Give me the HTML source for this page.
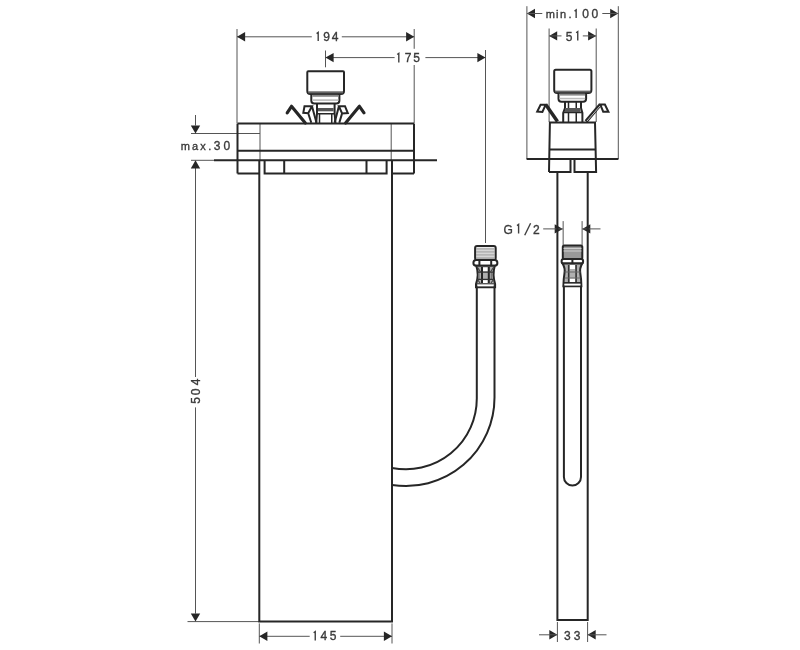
<!DOCTYPE html>
<html><head><meta charset="utf-8">
<style>
html,body{margin:0;padding:0;background:#fff;}
svg{display:block;will-change:transform;}
text{font-family:"Liberation Sans",sans-serif;font-size:12px;fill:#3a3a3a;stroke:#3a3a3a;stroke-width:0.35;}
.k{stroke:#262626;stroke-width:2;fill:none;stroke-linejoin:miter;}
.t{stroke:#555;stroke-width:1;fill:none;}
.a{fill:#262626;stroke:none;}
.one{stroke:#404040;stroke-width:1.4;fill:none;}
</style></head><body>
<svg width="800" height="650" viewBox="0 0 800 650">
<!-- main view dimensions -->
<g class="t">
  <path d="M237 29V123 M414.2 29V48.8 M414.2 65V123"/>
  <path d="M237 36.8H311.8 M341.8 36.8H414.2"/>
  <path d="M325.5 50.5V67.3 M485.5 50V243"/>
  <path d="M325.5 57.6H394.6 M425.4 57.6H485.5"/>
  <path d="M191 133.5H260 M191 160.3H214"/>
  <path d="M195.5 115V125.5"/>
  <path d="M195.5 168V377 M195.5 407.4V613.6"/>
  <path d="M187.5 621.6H259.3"/>
  <path d="M259.3 623.4V643.5 M392.0 623.4V643.5"/>
  <path d="M259.3 636.3H309.7 M340.2 636.3H392.0"/>
  <path d="M260 123V160 M391.2 123V160"/>
</g>
<g class="a">
<polygon points="237.00,36.80 245.10,32.10 245.10,41.50"/>
<polygon points="414.20,36.80 406.10,32.10 406.10,41.50"/>
<polygon points="325.50,57.60 333.60,52.90 333.60,62.30"/>
<polygon points="485.50,57.60 477.40,52.90 477.40,62.30"/>
<polygon points="195.50,133.50 190.80,125.40 200.20,125.40"/>
<polygon points="195.50,160.30 190.80,168.40 200.20,168.40"/>
<polygon points="195.50,621.60 190.80,613.50 200.20,613.50"/>
<polygon points="259.30,636.30 267.40,631.60 267.40,641.00"/>
<polygon points="392.00,636.30 383.90,631.60 383.90,641.00"/>
<polygon points="526.90,13.50 535.00,8.80 535.00,18.20"/>
<polygon points="618.30,13.50 610.20,8.80 610.20,18.20"/>
<polygon points="549.10,35.90 557.20,31.20 557.20,40.60"/>
<polygon points="596.20,35.90 588.10,31.20 588.10,40.60"/>
<polygon points="562.80,228.90 554.70,224.20 554.70,233.60"/>
<polygon points="582.20,228.90 590.30,224.20 590.30,233.60"/>
<polygon points="557.40,634.80 549.30,630.10 549.30,639.50"/>
<polygon points="587.60,634.80 595.70,630.10 595.70,639.50"/>
</g>
<text x="323.17 331.71" y="40.9">94</text>
<path class="one" d="M316.60 33.60L318.20 32.40V40.9"/>
<text x="404.66 413.18" y="62.4">75</text>
<path class="one" d="M397.20 54.50L398.80 53.30V62.4"/>
<text x="320.46 329.78" y="640.4">45</text>
<path class="one" d="M313.65 632.80L315.25 631.60V640.4"/>
<text y="149.7"><tspan x="180.71 192.01 200.35 208.37" font-size="11">max.</tspan><tspan x="213.7 223.46">30</tspan></text>
<text transform="translate(199.9,404) rotate(-90)" x="0.38 8.86 18.71" y="0">504</text>

<!-- main view fixture -->
<g class="k">
  <path d="M237.5 123.4H414 M237.5 123.4V173.4 M414 123.4V173.4"/>
  <path d="M237.5 150.7H414"/>
  <path d="M214 160.3H437"/>
  <path d="M237.5 173.4H259.3 M391.6 173.4H414"/>
  <path d="M264.6 160.3V173.4H386.6V160.3 M284.2 160.3V173.4 M366.5 160.3V173.4"/>
  <path d="M259.3 160.3V621.6H392.0V160.3"/>
</g>
<g class="k">
  <path d="M307.3 72.3Q307.3 71.3 308.3 71.3H343Q344 71.3 344 72.3V91Q344 94 341 94H310.3Q307.3 94 307.3 91Z"/>
  <path d="M311.3 94V100.4Q311.3 103.4 314.3 103.4H336.4Q339.4 103.4 339.4 100.4V94"/>
  <path d="M317 103.4V113.5L316.2 123 M334.6 103.4V113.5L335.5 123"/>
  <path d="M317 113.7H334.6 M319.5 114V123 M331.75 114V123" stroke-width="1.5"/>
  <path d="M287.2 112.8L291.5 106.3L305.3 123 M364 112.8L359.4 106.3L345.6 123" stroke-width="3.2" stroke-linejoin="round" stroke-linecap="round"/>
  <path d="M304.5 106.2H312L308.2 113.2L303.3 112.8Z M308.2 113.2L311.3 122.8 M312 106.2L316.5 122.8" stroke-width="2"/>
  <path d="M338.9 106.2H345L347.8 113L342.1 113.4Z M342.1 113.4L339.3 122.8 M338.9 106.2L334.6 122.8" stroke-width="2"/>
</g>
<rect x="308.3" y="91.3" width="34.7" height="2" fill="#666"/>
<rect x="312.3" y="94.8" width="26" height="2" fill="#888"/>
<rect x="312.3" y="99.3" width="26" height="1.6" fill="#bbb"/>
<rect x="318" y="108" width="15.6" height="3.3" fill="#555"/>

<!-- main view hose -->
<g class="k">
  <path d="M476.8 287V398.5A70.8 70.8 0 0 1 392.0 467.9"/>
  <path d="M494.5 287V397.5A88.5 88.5 0 0 1 392.0 484.9"/>
</g>
<rect x="475.1" y="245.9" width="20.6" height="14" rx="2" fill="#fff" stroke="#262626" stroke-width="2"/>
<path d="M476 248.3H495 M476 249.8H495 M476 251.3H495 M476 252.8H495 M476 254.3H495 M476 255.8H495 M476 257.3H495 M476 258.6H495" stroke="#999" stroke-width="0.9"/>
<rect x="473.4" y="260.1" width="24" height="5.7" rx="2.8" fill="#fff" stroke="#262626" stroke-width="2"/>
<path d="M479.4 260.1V265.8 M491.2 260.1V265.8" stroke="#262626" stroke-width="2"/>
<path d="M476.3 265.8Q479.3 274.5 476 284.1V287.3H495.1V284.1Q492.2 274.5 494.8 265.8Z" fill="#b0b0b0" stroke="#262626" stroke-width="2"/>
<path d="M483 267.5H487.8V271.3H483Z M483 280.3H487.8V283H483Z M477.8 284.5H493.3V286.3H477.8Z" fill="#fff"/>
<path d="M482 267V283 M488.8 267V283" stroke="#262626" stroke-width="2"/>
<path d="M478.9 272V280 M491.4 272V280" stroke="#777" stroke-width="1.5"/>
<path d="M477.5 272.1H493.5 M477.5 279.4H493.5" stroke="#333" stroke-width="1.4"/>
<path d="M477 266.5L480.5 272 M494 266.5L490.5 272 M477.5 279.5L480 283 M493.5 279.5L491 283" stroke="#444" stroke-width="1.2"/>
<path d="M476.5 283.7H494.6" stroke="#444" stroke-width="1"/>

<!-- side view dimensions -->
<g class="t">
  <path d="M526.9 6.2V159 M618.3 6.2V159"/>
  <path d="M526.9 13.5H542.3 M602.3 13.5H618.3"/>
  <path d="M549.1 28.5V122 M596.2 28.5V122"/>
  <path d="M549.1 35.9H561.5 M582.8 35.9H596.2"/>
  <path d="M543.2 228.9H562.8 M582.2 228.9H600.5"/>
  <path d="M563.15 221.1V245 M582.1 221.1V245"/>
  <path d="M557.4 622V642 M587.6 622V642"/>
  <path d="M539 634.8H557.4 M587.6 634.8H606.5"/>
</g>
<text y="18.1"><tspan x="545.71 556.08 560.04 568.47" font-size="11">min.</tspan><tspan x="582.16 591.46">00</tspan></text>
<path class="one" d="M574.55 11.10L576.15 9.90V18.1"/>
<text x="565.68" y="40.5">5</text>
<path class="one" d="M576.15 32.80L577.75 31.60V40.5"/>
<text x="503.48 533.07" y="233.5">G2</text>
<path class="one" d="M517.00 225.60L518.60 224.40V233.5 M524.7 235.2L530.6 223.2"/>
<text x="564.1 573.8" y="639.6">33</text>

<!-- side view fixture -->
<g class="k">
  <path d="M554.2 71.3Q554.2 69.8 555.7 69.8H589.9Q591.4 69.8 591.4 71.3V90Q591.4 93 588.4 93H557.2Q554.2 93 554.2 90Z"/>
  <path d="M558.5 93V98.7Q558.5 101.7 561.5 101.7H583.1Q586.1 101.7 586.1 98.7V93"/>
  <path d="M565 101.7V108L563.2 113V122.4 M581 101.7V108L582.4 113V122.4"/>
  <path d="M568.5 101.7V122.4 M576.25 101.7V122.4 M563.5 112.6H582" stroke-width="1.5"/>
  <path d="M549 172.1H570.5V159 M574.5 159V172.1H596.1L595 122.4H549.9L549 172.1"/>
  <path d="M549.5 149.5H595.6"/>
  <path d="M526.6 159H618.4"/>
  <path d="M557.4 172.1V620H587.7V172.1"/>
  <path d="M563.9 285V477A8.55 8.55 0 0 0 581 477V285"/>
  <path d="M540.6 104.8H545.6L542.4 112L537.2 111.6Z" stroke-width="2"/>
  <path d="M545.7 104.6L557.5 121.5" stroke-width="3.5"/>
  <path d="M600.3 104.6H604.9L608.4 111.7L603.2 111.7Z" stroke-width="2"/>
  <path d="M600.3 104.6L586 121.5" stroke-width="3.5"/>
</g>
<path d="M600 106L587 121" stroke="#fff" stroke-width="0.7"/>
<rect x="555.2" y="90.6" width="35.2" height="1.8" fill="#666"/>
<rect x="559.5" y="93.6" width="25.6" height="2" fill="#888"/>
<rect x="559.5" y="97.8" width="25.6" height="1.5" fill="#bbb"/>
<rect x="565" y="108" width="15.5" height="4" fill="#555"/>
<!-- side fitting -->
<rect x="562.8" y="245.5" width="19.5" height="13.5" rx="1.5" fill="#999" stroke="#262626" stroke-width="2"/>
<path d="M563.5 248.5H581.5 M563.5 251H581.5" stroke="#ddd" stroke-width="0.8"/>
<rect x="561.6" y="259" width="21.5" height="4.6" rx="2" fill="#fff" stroke="#262626" stroke-width="2"/>
<path d="M572.4 259V263.6" stroke="#262626" stroke-width="2"/>
<path d="M562.6 263.6Q565.5 268 564.4 274Q563.5 279 563.4 286.2H581.4Q581.3 279 580.4 274Q579.3 268 582.2 263.6Z" fill="#b0b0b0" stroke="#262626" stroke-width="2"/>
<path d="M569.8 265H575V269H569.8Z M569.8 278.5H575V282H569.8Z M564.4 283.5H580.4V285.4H564.4Z" fill="#fff"/>
<path d="M568.7 265V283 M576.1 265V283" stroke="#333" stroke-width="1.6"/>
<path d="M564.5 272H580.5 M564.5 278H580.5" stroke="#666" stroke-width="1.2"/>
<path d="M563.4 282.8H581.4" stroke="#262626" stroke-width="1.5"/>
</svg>
</body></html>
